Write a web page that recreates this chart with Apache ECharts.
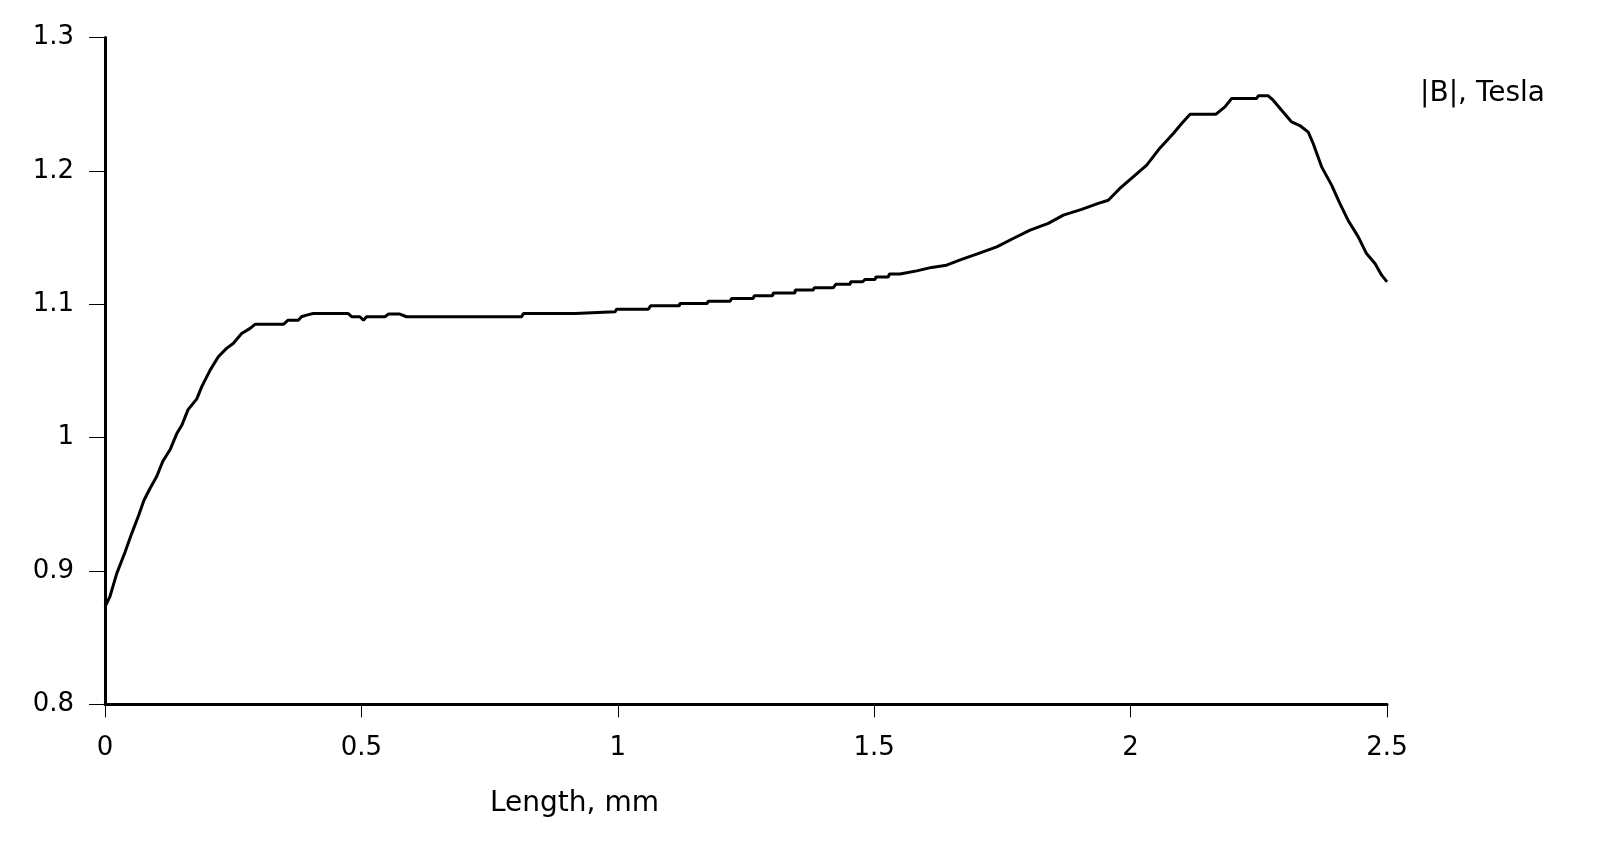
<!DOCTYPE html>
<html>
<head>
<meta charset="utf-8">
<script src="https://cdn.jsdelivr.net/npm/echarts@6/dist/echarts.min.js"></script>
<style>
html,body{margin:0;padding:0;background:#fff;}
#chart{width:1608px;height:841px;}
</style>
</head>
<body>
<div id="chart"></div>
<script>
// Length along path, mm
const lengthMm = [
0, 0.0098, 0.0228, 0.039, 0.052, 0.065, 0.076, 0.088, 0.101, 0.1125,
0.127, 0.140, 0.1495, 0.162, 0.179, 0.1885, 0.205, 0.221, 0.237, 0.250,
0.2665, 0.283, 0.2925, 0.348, 0.357, 0.377, 0.383, 0.393, 0.406, 0.4745,
0.481, 0.497, 0.504, 0.510, 0.546, 0.5525, 0.575, 0.588, 0.8125, 0.816,
0.9165, 0.92, 0.9945, 0.998, 1.0595, 1.064, 1.12, 1.121, 1.1745, 1.176,
1.219, 1.222, 1.264, 1.266, 1.302, 1.303, 1.3455, 1.346, 1.381, 1.383,
1.420, 1.425, 1.453, 1.454, 1.4775, 1.482, 1.5016, 1.5035, 1.5275, 1.5296,
1.5503, 1.583, 1.612, 1.641, 1.6705, 1.6998, 1.739, 1.771, 1.804, 1.8395,
1.8688, 1.9046, 1.937, 1.9565, 1.979, 2.005, 2.0314, 2.057, 2.0833, 2.0996,
2.116, 2.1666, 2.184, 2.197, 2.2458, 2.249, 2.2685, 2.278, 2.2945, 2.314,
2.330, 2.3465, 2.356, 2.3725, 2.392, 2.408, 2.424, 2.444, 2.46, 2.4766,
2.4896, 2.5
];
// |B|, Tesla
const bTesla = [
0.873, 0.881, 0.898, 0.914, 0.928, 0.941, 0.953, 0.962, 0.971, 0.982,
0.991, 1.003, 1.009, 1.021, 1.029, 1.038, 1.0506, 1.0606, 1.0669, 1.0706,
1.078, 1.0819, 1.0849, 1.0849, 1.088, 1.088, 1.0906, 1.0918, 1.093, 1.093,
1.0906, 1.0906, 1.088, 1.0906, 1.0906, 1.0926, 1.0926, 1.0906, 1.0906, 1.093,
1.093, 1.0943, 1.0943, 1.0963, 1.0963, 1.0988, 1.0988, 1.1006, 1.1006, 1.1023,
1.1023, 1.1043, 1.1043, 1.1063, 1.1063, 1.1085, 1.1085, 1.1106, 1.1106, 1.1123,
1.1123, 1.1149, 1.1149, 1.1168, 1.1168, 1.1186, 1.1186, 1.1205, 1.1205, 1.1226,
1.1226, 1.125, 1.1276, 1.1293, 1.1336, 1.1376, 1.143, 1.1493, 1.1556, 1.1606,
1.1668, 1.1711, 1.1756, 1.178, 1.1868, 1.1955, 1.2043, 1.217, 1.228, 1.2355,
1.2425, 1.2425, 1.248, 1.2543, 1.2543, 1.2563, 1.2563, 1.253, 1.2455, 1.2367,
1.234, 1.229, 1.2205, 1.203, 1.1893, 1.1756, 1.163, 1.1505, 1.138, 1.1306,
1.1218, 1.1168
];
const xTicks = {min: 0, max: 2.5, interval: 0.5};
const yTicks = {min: 0.8, max: 1.3, interval: 0.1};
const xTitle = 'Length, mm';
const yTitle = '|B|, Tesla';

const font = '"DejaVu Sans", Verdana, sans-serif';
const chart = echarts.init(document.getElementById('chart'), null, {renderer: 'canvas'});
const seriesData = lengthMm.map((x, i) => [x, bTesla[i]]);

chart.setOption({
  animation: false,
  backgroundColor: '#fff',
  title: [
    {text: yTitle, left: 1420, top: 80, padding: 0, textStyle: {fontFamily: font, fontSize: 28, fontWeight: 'normal', color: '#000'}},
    {text: xTitle, left: 490, top: 790, padding: 0, textStyle: {fontFamily: font, fontSize: 28, fontWeight: 'normal', color: '#000'}}
  ],
  grid: {left: 105, right: 221, top: 37.5, bottom: 136.7, containLabel: false},
  xAxis: {
    type: 'value', min: xTicks.min, max: xTicks.max, interval: xTicks.interval,
    splitLine: {show: false},
    axisLine: {show: true, onZero: false, lineStyle: {color: '#000', width: 3}},
    axisTick: {show: true, length: 13, lineStyle: {color: '#000', width: 1}},
    axisLabel: {margin: 31, fontFamily: font, fontSize: 26, color: '#000'}
  },
  yAxis: {
    type: 'value', min: yTicks.min, max: yTicks.max, interval: yTicks.interval,
    splitLine: {show: false},
    axisLine: {show: true, onZero: false, lineStyle: {color: '#000', width: 3}},
    axisTick: {show: true, length: 16, lineStyle: {color: '#000', width: 1}},
    axisLabel: {margin: 31, fontFamily: font, fontSize: 26, color: '#000'}
  },
  series: [{
    type: 'line',
    data: seriesData,
    showSymbol: false,
    smooth: false,
    lineStyle: {color: '#000', width: 3},
    itemStyle: {color: '#000'}
  }]
});
</script>
</body>
</html>
